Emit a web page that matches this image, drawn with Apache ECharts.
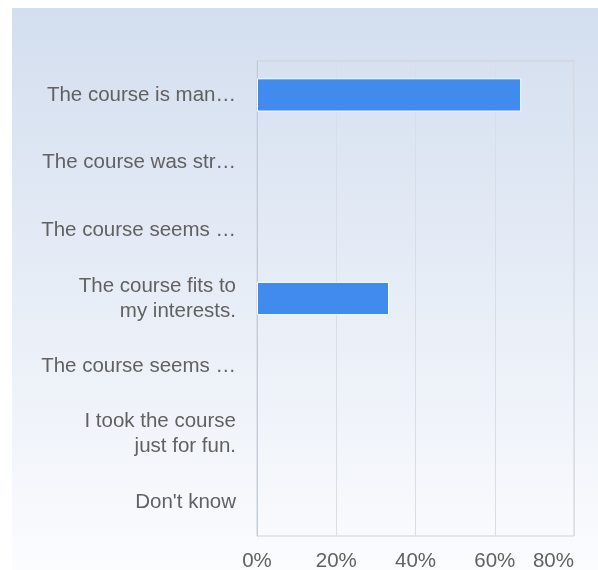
<!DOCTYPE html>
<html>
<head>
<meta charset="utf-8">
<script src="https://cdn.jsdelivr.net/npm/echarts@6/dist/echarts.min.js"></script>
<style>
html,body{margin:0;padding:0;background:#fff;}
#chart{width:598px;height:570px;}
</style>
</head>
<body>
<div id="chart"></div>
<script>
const categories = [
  "The course is man\u2026",
  "The course was str\u2026",
  "The course seems \u2026",
  "The course fits to\nmy interests.",
  "The course seems \u2026",
  "I took the course\njust for fun.",
  "Don't know"
];
const values = [66.67, 0, 0, 33.33, 0, 0, 0];
const xTicks = { min: 0, max: 80, interval: 20 };

const chart = echarts.init(document.getElementById('chart'), null, { renderer: 'canvas' });
chart.setOption({
  animation: false,
  backgroundColor: '#ffffff',
  graphic: [{
    type: 'rect',
    left: 12, top: 8,
    shape: { width: 586, height: 562 },
    z: -10,
    style: {
      fill: new echarts.graphic.LinearGradient(0, 0, 0, 1, [
        { offset: 0, color: '#d3deef' },
        { offset: 1, color: '#fbfcfe' }
      ])
    }
  }],
  grid: {
    left: 257, top: 61, right: 24, bottom: 34,
    outerBoundsMode: 'none', containLabel: false,
    show: true, borderColor: '#cfd3d8', borderWidth: 1, backgroundColor: 'transparent'
  },
  xAxis: {
    type: 'value',
    min: xTicks.min, max: xTicks.max, interval: xTicks.interval,
    axisLine: { show: false },
    axisTick: { show: false },
    splitLine: { show: true, lineStyle: { color: '#d9dee6', width: 1 } },
    axisLabel: {
      formatter: '{value}%',
      color: '#616161', fontSize: 20.5, fontFamily: 'Liberation Sans, Arial, sans-serif',
      margin: 15,
      alignMaxLabel: 'right'
    }
  },
  yAxis: {
    type: 'category',
    inverse: true,
    data: categories,
    axisLine: { show: true, lineStyle: { color: '#c2cbd8', width: 1 } },
    axisTick: { show: false },
    axisLabel: {
      color: '#616161', fontSize: 20.5, fontFamily: 'Liberation Sans, Arial, sans-serif',
      lineHeight: 25, margin: 21, padding: [8, 0, 0, 0]
    }
  },
  series: [{
    type: 'bar',
    data: values.map(v => v > 0 ? v : { value: v, itemStyle: { borderWidth: 0 } }),
    barWidth: '49%',
    itemStyle: { color: '#418bef', borderColor: '#ffffff', borderWidth: 1 }
  }]
});
</script>
</body>
</html>
